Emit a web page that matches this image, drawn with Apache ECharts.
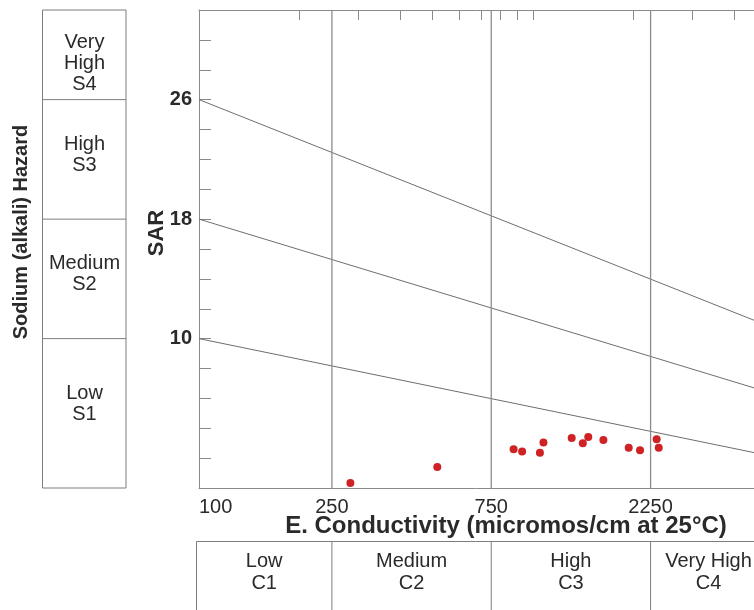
<!DOCTYPE html>
<html>
<head>
<meta charset="utf-8">
<title>USSL salinity diagram</title>
<script src="https://cdn.jsdelivr.net/npm/echarts@6/dist/echarts.min.js"></script>
<style>
    html, body { margin: 0; padding: 0; background: #fff; }
    #chart { width: 754px; height: 610px; }
</style>
</head>
<body>
<div id="chart"></div>
<script>
// samples: conductivity (micromhos/cm) and SAR
var ecValues  = [284, 517, 875, 928, 1049, 1075, 1306, 1410, 1464, 1625, 1935, 2092, 2346, 2380];
var sarValues = [0.33, 1.40, 2.59, 2.45, 2.36, 3.05, 3.34, 2.99, 3.41, 3.21, 2.69, 2.52, 3.27, 2.69];

// sodium hazard boundaries (end points)
var lineS3S4 = [[100, 26], [5000, 10.9]];
var lineS2S3 = [[100, 18], [5000, 6.45]];
var lineS1S2 = [[100, 10], [5000, 2.2]];

// salinity class boundaries and axis settings
var ecBounds = [250, 750, 2250];
var sarBounds = [10, 18, 26];
var ecLabels = [100, 250, 750, 2250];
var ecMinorTicks = [200, 300, 400, 500, 600, 700, 800, 900, 1000, 2000, 3000, 4000];
var sarLabels = [10, 18, 26];
// the figure is cut at the right edge, around 4600
var ecMin = 100, ecMax = 4590, sarMin = 0, sarMax = 32;

var salinityClasses = ['Low\nC1', 'Medium\nC2', 'High\nC3', 'Very High\nC4'];
var sodiumClasses = ['Low\nS1', 'Medium\nS2', 'High\nS3', 'Very\nHigh\nS4'];

var FONT = '"Liberation Sans", Arial, sans-serif';
var TXT = '#2a2a2a';
var AXIS = '#8a8a8a';

var chart = echarts.init(document.getElementById('chart'));

var pts = [];
for (var i = 0; i < ecValues.length; i++) {
    pts.push([ecValues[i], sarValues[i]]);
}

var series = [];
[lineS3S4, lineS2S3, lineS1S2].forEach(function (d) {
    series.push({
        type: 'line', data: d, symbol: 'none', silent: true, clip: true,
        lineStyle: { color: '#6e6e6e', width: 1 }
    });
});
ecBounds.forEach(function (b) {
    series.push({
        type: 'line', data: [[b, sarMin], [b, sarMax]], symbol: 'none', silent: true,
        lineStyle: { color: '#8c8c8c', width: 1.3 }
    });
});
series.push({
    type: 'scatter', data: pts, symbolSize: 8,
    itemStyle: { color: '#cf2224', opacity: 1 }
});

chart.setOption({
    animation: false,
    grid: { left: 199, top: 10, right: 0, bottom: 122 },
    xAxis: [{
        type: 'log', logBase: 10, min: ecMin, max: ecMax, position: 'bottom',
        axisLine: { show: true, lineStyle: { color: AXIS, width: 1 } },
        axisTick: { show: false },
        splitLine: { show: false },
        axisLabel: {
            customValues: ecLabels, alignMinLabel: 'left',
            formatter: function (v) { return String(Math.round(v)); },
            margin: 9, fontSize: 20, color: TXT, fontFamily: FONT
        }
    }, {
        type: 'log', logBase: 10, min: ecMin, max: ecMax, position: 'top',
        axisLine: { show: true, lineStyle: { color: AXIS, width: 1 } },
        axisTick: { show: true, inside: true, length: 10, customValues: ecMinorTicks, lineStyle: { color: AXIS } },
        axisLabel: { show: false },
        splitLine: { show: false }
    }],
    yAxis: [{
        type: 'value', min: sarMin, max: sarMax, interval: 2,
        axisLine: { show: true, lineStyle: { color: AXIS, width: 1 } },
        axisTick: { show: true, inside: true, length: 12, lineStyle: { color: AXIS } },
        splitLine: { show: false },
        axisLabel: {
            customValues: sarLabels, margin: 7,
            fontSize: 20, fontWeight: 'bold', color: TXT, fontFamily: FONT
        }
    }],
    series: series
});

function gx(v) { return chart.convertToPixel({ xAxisIndex: 0 }, v); }
function gy(v) { return chart.convertToPixel({ yAxisIndex: 0 }, v); }

var g = [];
// left sodium hazard panel
var yTop = gy(sarMax), yBot = gy(sarMin);
g.push({ type: 'rect', shape: { x: 42.5, y: yTop, width: 83.5, height: yBot - yTop },
    style: { fill: 'none', stroke: '#7d7d7d', lineWidth: 1 } });
sarBounds.forEach(function (b) {
    g.push({ type: 'line', shape: { x1: 42.5, y1: gy(b), x2: 126, y2: gy(b) },
        style: { stroke: '#7d7d7d', lineWidth: 1 } });
});
var sodiumY = [404, 274, 155, 63];
sodiumClasses.forEach(function (t, i) {
    g.push({ type: 'text', x: 84.5, y: sodiumY[i], style: {
        text: t, align: 'center', verticalAlign: 'middle', lineHeight: 21,
        font: '20px ' + FONT, fill: TXT } });
});
g.push({ type: 'text', x: 21.5, y: 232, rotation: Math.PI / 2, style: {
    text: 'Sodium (alkali) Hazard', align: 'center', verticalAlign: 'middle',
    font: 'bold 20px ' + FONT, fill: TXT } });
g.push({ type: 'text', x: 157, y: 233, rotation: Math.PI / 2, style: {
    text: 'SAR', align: 'center', verticalAlign: 'middle',
    font: 'bold 22px ' + FONT, fill: TXT } });

// x axis title
g.push({ type: 'text', x: 506, y: 526, style: {
    text: 'E. Conductivity (micromos/cm at 25\u00b0C)', align: 'center', verticalAlign: 'middle',
    font: 'bold 24px ' + FONT, fill: TXT } });

// bottom salinity hazard panel
var bx = 196.5, by = 541.5;
g.push({ type: 'rect', shape: { x: bx, y: by, width: 700, height: 200 },
    style: { fill: 'none', stroke: '#7d7d7d', lineWidth: 1 } });
var edges = [bx];
ecBounds.forEach(function (b) {
    var x = gx(b);
    edges.push(x);
    g.push({ type: 'line', shape: { x1: x, y1: by, x2: x, y2: 700 },
        style: { stroke: '#7d7d7d', lineWidth: 1 } });
});
edges.push(gx(5000));
salinityClasses.forEach(function (t, i) {
    g.push({ type: 'text', x: (edges[i] + edges[i + 1]) / 2, y: 572.5, style: {
        text: t, align: 'center', verticalAlign: 'middle', lineHeight: 21.6,
        font: '20px ' + FONT, fill: TXT } });
});

chart.setOption({ graphic: g });
</script>
</body>
</html>
